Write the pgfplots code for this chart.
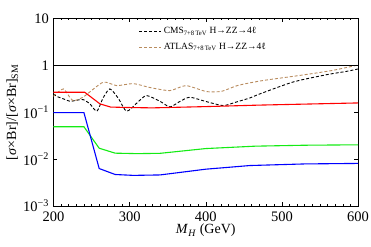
\documentclass[border=0pt]{standalone}
\usepackage{fontspec}
\setmainfont{Liberation Serif}
\usepackage{pgfplots}
\pgfplotsset{compat=1.18}
\definecolor{atlasbrown}{RGB}{185,140,95}
\definecolor{mygreen}{RGB}{20,235,20}
\begin{document}
\begin{tikzpicture}
\path[use as bounding box] (-53.5pt,-40pt) rectangle (317.5pt,206pt);
\begin{axis}[
  scale only axis, width=304.5pt, height=187.5pt,
  at={(0,0)}, anchor=south west,
  ymode=log, xmin=200, xmax=600, ymin=1e-3, ymax=10,
  xtick={200,300,400,500,600},
  xticklabels={200,300,400,500,600},
  minor x tick num=9,
  ytick={1e-3,1e-2,1e-1,1,10},
  yticklabels={10\textsuperscript{−3},10\textsuperscript{−2},10\textsuperscript{−1},1,10},
  yminorticks=false,
  tick align=inside,
  major tick length=4pt, minor tick length=2pt,
  tick style={black, line width=0.5pt},
  axis line style={line width=0.7pt},
  ticklabel style={font=\fontsize{14.5}{14.5}\selectfont},
  xticklabel style={yshift=-2pt},
  yticklabel style={xshift=-1pt},
  xlabel={\textit{M}\textsubscript{\textit{H}} (GeV)},
  ylabel={[\textit{σ}×Br]/[\textit{σ}×Br]\textsubscript{SM}},
  label style={font=\fontsize{14}{14}\selectfont},
  xlabel style={yshift=4pt},
  ylabel style={yshift=-2pt},
  legend style={draw=none, fill=none, at={(0.27,0.975)}, anchor=north west,
    font=\fontsize{9.5}{10}\selectfont, row sep=4pt},
  legend cell align=left,
  legend image code/.code={\draw[#1] (0pt,0pt) -- (22pt,0pt);},
]
\addplot[black, dashed, line width=0.9pt, dash pattern=on 3pt off 2pt, smooth, tension=0.4] coordinates {
(200,0.246) (204,0.219) (213,0.193) (222,0.171) (230,0.180) (239,0.186) (248,0.150) (257,0.105)
(265,0.200) (274,0.315) (285,0.200) (296,0.105) (310,0.160) (322,0.227) (340,0.171) (353,0.130)
(366,0.170) (379,0.209) (400,0.170) (423,0.139) (440,0.165) (458,0.202) (471,0.246) (515,0.443)
(559,0.634) (585,0.745) (600,0.838)};
\addlegendentry{CMS\textsubscript{7+8\,TeV} H→ZZ→4ℓ}
\addplot[atlasbrown, dashed, line width=0.9pt, dash pattern=on 3pt off 2pt, smooth, tension=0.4] coordinates {
(200,0.219) (213,0.315) (225,0.179) (239,0.211) (265,0.435) (283,0.370) (305,0.408) (327,0.336)
(353,0.290) (374,0.370) (401,0.276) (421,0.280) (442,0.373) (474,0.472) (524,0.612) (566,0.778) (600,1.02)};
\addlegendentry{ATLAS\textsubscript{7+8\,TeV} H→ZZ→4ℓ}
\addplot[black, line width=0.9pt, forget plot] coordinates {(200,1) (600,1)};
\addplot[red, line width=1.1pt, forget plot] coordinates {
(200,0.267) (241,0.267) (261,0.151) (275,0.129) (300,0.126) (330,0.124) (400,0.132) (470,0.142) (600,0.158)};
\addplot[mygreen, line width=1.1pt, forget plot] coordinates {
(200,0.049) (240,0.049) (260,0.0171) (281,0.0134) (310,0.0131) (340,0.0133) (400,0.0168) (465,0.0189) (530,0.0198) (600,0.0202)};
\addplot[blue, line width=1.1pt, forget plot] coordinates {
(200,0.098) (240,0.098) (260,0.0063) (281,0.0047) (305,0.0045) (340,0.0046) (400,0.0061) (458,0.0073) (530,0.0079) (600,0.0081)};
\end{axis}
\end{tikzpicture}
\end{document}
